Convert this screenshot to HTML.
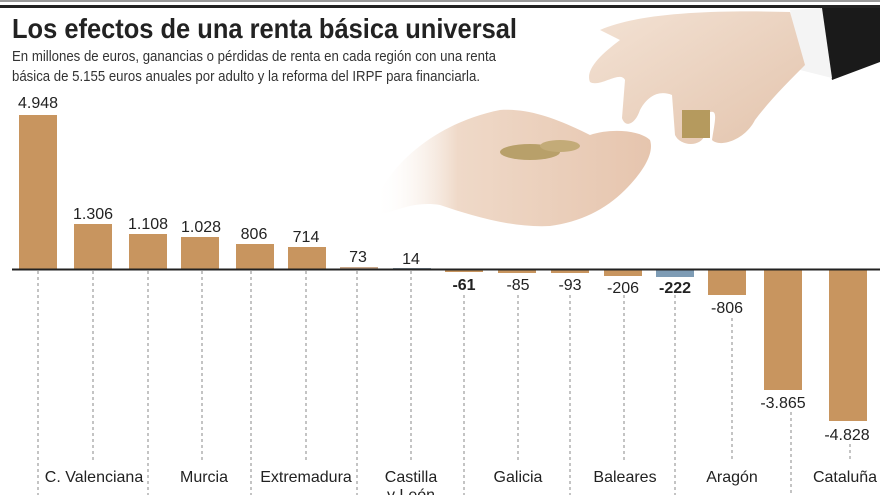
<!DOCTYPE html>
<html><head><meta charset="utf-8"><style>
html,body{margin:0;padding:0;background:#fff;}
svg{display:block;}
text{font-family:"Liberation Sans Narrow","Liberation Sans",sans-serif;}
</style></head><body>
<svg width="880" height="495" viewBox="0 0 880 495" xmlns="http://www.w3.org/2000/svg">
<defs>
<linearGradient id="sk" x1="0" y1="0" x2="1" y2="1"><stop offset="0" stop-color="#f3e2d4"/><stop offset="1" stop-color="#e3c4ad"/></linearGradient>
<linearGradient id="sk2" x1="0" y1="0" x2="1" y2="0"><stop offset="0" stop-color="#fff" stop-opacity="0"/><stop offset="0.3" stop-color="#efd9c8"/><stop offset="1" stop-color="#e6c5ae"/></linearGradient>
</defs>
<rect x="0" y="0" width="880" height="2" fill="#999"/>
<rect x="0" y="5" width="880" height="3" fill="#222"/>
<!-- hands -->
<path d="M820 8 L880 8 L880 62 L832 80 Z" fill="#1a1a1a"/>
<path d="M790 10 L822 8 L832 78 L800 70 Z" fill="#f4f4f4"/>
<path d="M600 30 C640 12 720 10 790 12 L805 65 C790 80 770 100 755 120 C745 140 720 148 712 140 C715 120 718 110 710 112 L705 135 C700 148 680 146 675 135 L672 95 C660 90 648 95 640 110 C635 125 625 128 622 118 L625 80 C620 70 600 88 590 82 C585 70 600 55 620 40 Z" fill="url(#sk)"/>
<rect x="682" y="110" width="28" height="28" fill="#b59a5e"/>
<path d="M375 200 C400 150 450 120 500 110 C530 108 560 120 590 135 C610 128 640 130 650 140 C655 155 640 175 625 190 C605 210 580 222 550 226 C510 228 470 215 440 205 C410 200 390 215 375 215 Z" fill="url(#sk2)"/>
<ellipse cx="530" cy="152" rx="30" ry="8" fill="#b8a06a"/>
<ellipse cx="560" cy="146" rx="20" ry="6" fill="#c3ab78"/>
<text x="12" y="38" font-family="Liberation Sans" font-weight="bold" font-size="28" fill="#222" style="font-family:'Liberation Sans Narrow','Liberation Sans',sans-serif" textLength="505" lengthAdjust="spacingAndGlyphs">Los efectos de una renta básica universal</text>
<text x="12" y="61" font-size="15" fill="#333" textLength="484" lengthAdjust="spacingAndGlyphs">En millones de euros, ganancias o pérdidas de renta en cada región con una renta</text>
<text x="12" y="81" font-size="15" fill="#333" textLength="468" lengthAdjust="spacingAndGlyphs">básica de 5.155 euros anuales por adulto y la reforma del IRPF para financiarla.</text>
<!-- dashed lines -->
<g stroke="#888" stroke-width="1" stroke-dasharray="3,3">
<line x1="38" y1="271" x2="38" y2="495"/>
<line x1="93" y1="271" x2="93" y2="460"/>
<line x1="148" y1="271" x2="148" y2="495"/>
<line x1="202" y1="271" x2="202" y2="460"/>
<line x1="251" y1="271" x2="251" y2="495"/>
<line x1="306" y1="271" x2="306" y2="460"/>
<line x1="357" y1="271" x2="357" y2="495"/>
<line x1="411" y1="271" x2="411" y2="460"/>
<line x1="464" y1="295" x2="464" y2="495"/>
<line x1="518" y1="295" x2="518" y2="460"/>
<line x1="570" y1="295" x2="570" y2="495"/>
<line x1="624" y1="295" x2="624" y2="460"/>
<line x1="675" y1="295" x2="675" y2="495"/>
<line x1="732" y1="318" x2="732" y2="460"/>
<line x1="791" y1="412" x2="791" y2="495"/>
<line x1="850" y1="444" x2="850" y2="460"/>
</g>
<!-- bars -->
<g fill="#c8955f">
<rect x="19" y="115" width="38" height="154"/>
<rect x="74" y="224" width="38" height="45"/>
<rect x="129" y="234" width="38" height="35"/>
<rect x="181" y="237" width="38" height="32"/>
<rect x="236" y="244" width="38" height="25"/>
<rect x="288" y="247" width="38" height="22"/>
<rect x="340" y="267" width="38" height="2" fill="#c8a78a"/>
<rect x="445" y="270" width="38" height="2"/>
<rect x="498" y="270" width="38" height="3"/>
<rect x="551" y="270" width="38" height="3"/>
<rect x="604" y="270" width="38" height="6"/>
<rect x="708" y="270" width="38" height="25"/>
<rect x="764" y="270" width="38" height="120"/>
<rect x="829" y="270" width="38" height="151"/>
</g>
<rect x="656" y="270" width="38" height="7" fill="#7e9cb5"/>
<rect x="393" y="268" width="38" height="1" fill="#8a9aa8"/>
<line x1="12" y1="269.5" x2="880" y2="269.5" stroke="#222" stroke-width="2"/>
<!-- values -->
<g font-size="16" fill="#222" text-anchor="middle">
<text x="38" y="108">4.948</text>
<text x="93" y="219">1.306</text>
<text x="148" y="229">1.108</text>
<text x="201" y="232">1.028</text>
<text x="254" y="239">806</text>
<text x="306" y="242">714</text>
<text x="358" y="262">73</text>
<text x="411" y="264">14</text>
<text x="464" y="290" font-weight="bold">-61</text>
<text x="518" y="290">-85</text>
<text x="570" y="290">-93</text>
<text x="623" y="293">-206</text>
<text x="675" y="293" font-weight="bold">-222</text>
<text x="727" y="313">-806</text>
<text x="783" y="408">-3.865</text>
<text x="847" y="440">-4.828</text>
</g>
<g font-size="16" fill="#222" text-anchor="middle">
<text x="94" y="482">C. Valenciana</text>
<text x="204" y="482">Murcia</text>
<text x="306" y="482">Extremadura</text>
<text x="411" y="482">Castilla</text>
<text x="411" y="500">y León</text>
<text x="518" y="482">Galicia</text>
<text x="625" y="482">Baleares</text>
<text x="732" y="482">Aragón</text>
<text x="845" y="482">Cataluña</text>
</g>
</svg>
</body></html>
